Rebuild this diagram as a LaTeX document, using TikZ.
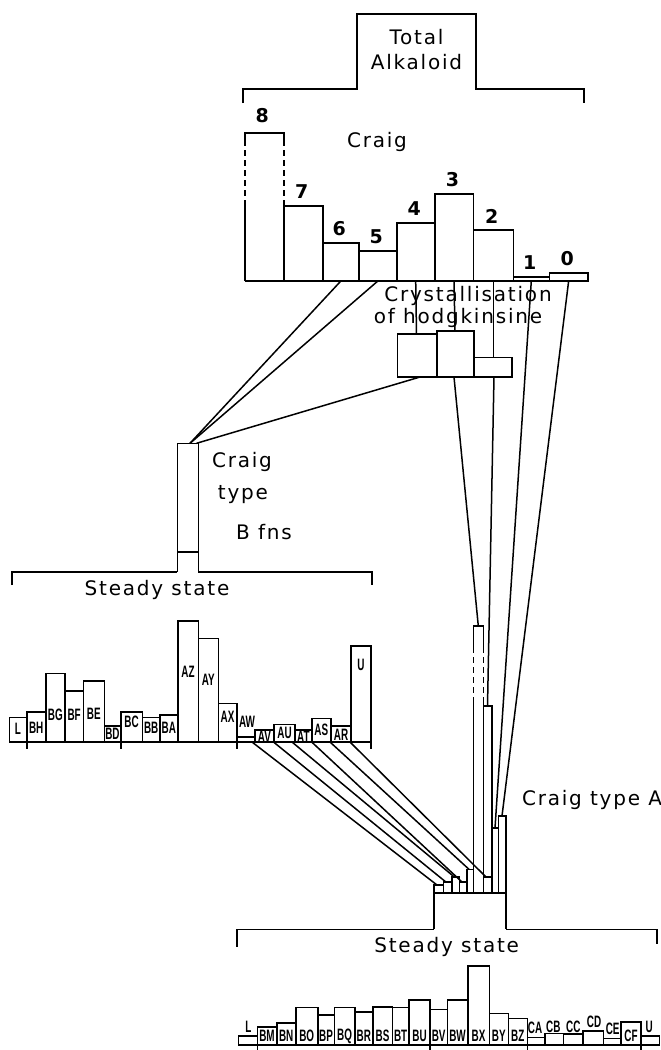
\documentclass[tikz,border=0pt]{standalone}
\usepackage{fontspec}
\usetikzlibrary{positioning}
\newfontfamily\lblfont[LetterSpace=9]{DejaVu Sans}
\newfontfamily\barfont[FakeStretch=0.6]{Liberation Sans}

\begin{document}
\begin{tikzpicture}[x=1pt,y=-1pt,line width=1.6pt,line join=miter]

%% ── helpers ───────────────────────────────────────────────
\tikzset{
  dsh/.style={dash pattern=on 6pt off 4pt},
  txt/.style={font=\fontsize{20}{25}\lblfont,inner sep=0pt,align=center},
  num/.style={font=\fontsize{19}{19}\lblfont\bfseries,inner sep=0pt},
  tag/.style={font=\fontsize{16.5}{16.5}\barfont\bfseries,inner sep=0pt},
  lnk/.style={line width=1.5pt},
}
\useasboundingbox (0,0) rectangle (661,1050);

%% ── TOTAL ALKALOID ───────────────────────────────────────
\node[txt] (total) at (416.5,50) {Total\\Alkaloid};
\draw (243,103) |- (357,89) |- (476,14) |- (584,89) -- (584,103);

%% ── CRAIG (fractions 8 ... 0) ────────────────────────────
\node[txt] (craig) at (377,142) {Craig};
\draw (244.7,281) -- (244.7,200) (244.7,140) -- (244.7,132.7) -- (284,132.7) -- (284,140);
\draw[dsh] (244.7,140) -- (244.7,200) (284,140) -- (284,206);
\node[num] (n8) at (262.3,116) {8};
\coordinate (c8) at (264.3,281);
\foreach \xa/\xb/\yt/\nm in {284/322.7/206/7, 322.7/359/242.7/6, 359/396.7/250.7/5,
                             396.7/434.7/222.7/4, 434.7/473.3/194/3, 473.3/513.3/230/2,
                             513.3/549.3/276.7/1, 549.3/588/272.7/0}{
  \draw (\xa,\yt) rectangle (\xb,281);
  \node[num] (n\nm) at ({(\xa+\xb)/2-1.5},{\yt-14}) {\nm};
  \coordinate (c\nm) at ({(\xa+\xb)/2},281);
}
\draw (244.7,281) -- (588,281);

%% ── CRYSTALLISATION OF HODGKINSINE ───────────────────────
\coordinate (x1t) at (416.5,334);
\coordinate (x2t) at (455,331);
\coordinate (x3t) at (493.3,357.3);
\draw[lnk] (c4) -- (x1t);
\draw[lnk] (c3) -- (x2t);
\draw[lnk] (c2) -- (x3t);
\node[txt] (cry1) at (468,296) {Crystallisation};
\node[txt] (cry2) at (458,318) {of hodgkinsine};
\draw (397.5,334) rectangle (436.7,377);
\draw (436.7,331) rectangle (474,377);
\draw (474,357.3) rectangle (512,377);
\coordinate (x1b) at (420,377);
\coordinate (x2b) at (454,377);
\coordinate (x3b) at (494,377);

%% ── CRAIG TYPE B ─────────────────────────────────────────
\draw (177.3,571.7) -- (177.3,443.3) -- (198.3,443.3) -- (198.3,571.7);
\draw (177.3,551.7) -- (198.3,551.7);
\coordinate (bt1) at (190,443.3);
\coordinate (bt2) at (196.5,443.3);
\draw[lnk] (c6) -- (bt1);
\draw[lnk] (c5) -- (bt1);
\draw[lnk] (x1b) -- (bt2);
\node[txt] (cb1) at (242,462) {Craig};
\node[txt] (cb2) at (243,495) {type};
\node[txt] (cb3) at (264,532) {B fns};

%% ── STEADY STATE (left) ──────────────────────────────────
\draw (11.7,585) |- (177.3,571.7);
\draw (198.3,571.7) -| (372,585);
\node[txt] (ss1) at (157,590) {Steady state};

\foreach \xa/\xb/\yt/\nm/\ly in {9.3/26.7/717.3/L/729, 26.7/45.7/711.7/BH/728, 45.7/65/673.3/BG/715,
    65/83.3/690.7/BF/715, 83.3/104.3/681/BE/714, 104.3/120.7/726/BD/734, 120.7/142.3/711.7/BC/722,
    142.3/160/717.3/BB/728, 160/177.7/715/BA/728, 177.7/198.3/620.7/AZ/672, 198.3/218.3/638.3/AY/680,
    218.3/236.7/703.3/AX/717, 255/274/730/AV/736.5, 274/295/724.3/AU/733, 295/311.7/730/AT/736.5,
    311.7/331/718.3/AS/730, 331/351/726/AR/735, 351/370.7/646/U/665}{
  \draw (\xa,\yt) rectangle (\xb,742);
  \node[tag] (l\nm) at ({(\xa+\xb)/2},\ly) {\nm};
}
\draw (236.7,742) -- (236.7,737) -- (255,737);
\node[tag] (lAW) at (247,722) {AW};
\draw (9.3,742) -- (370.7,742);
\foreach \xt in {26.7,120.7,236.7,370.7}
  \draw (\xt,742) -- (\xt,749);

%% ── CRAIG TYPE A column ──────────────────────────────────
\draw (473.3,893) -- (473.3,700) (473.3,647) -- (473.3,626) -- (483.3,626) -- (483.3,647) (483.3,700) -- (483.3,893);
\draw[dsh] (473.3,647) -- (473.3,700) (483.3,647) -- (483.3,700);
\foreach \xa/\xb/\yt in {483.3/491.7/706, 491.7/498.3/828, 498.3/506/816,
                         434/443.3/885, 443.3/451.7/881.7, 451.7/459.3/876.7,
                         459.3/466.7/882, 466.7/473.3/869.3}
  \draw (\xa,\yt) rectangle (\xb,893);
\draw (483.3,877) -- (491.7,877);
\draw (434,929.3) -- (434,893) -- (506,893) -- (506,929.3);
\node[txt] (typeA) at (592,800) {Craig type A};

\coordinate (a1) at (478.3,626);
\coordinate (a2) at (487.5,706);
\coordinate (a3) at (495,828);
\coordinate (a4) at (502,816);
\draw[lnk] (x2b) -- (a1);
\draw[lnk] (x3b) -- (a2);
\draw[lnk] (c1) -- (a3);
\draw[lnk] (c0) -- (a4);

%% ── AV ... AR into the column ────────────────────────────
\foreach \i/\sx/\ex/\ey in {1/252/437/885, 2/273.5/445.5/881.7, 3/292/454/876.7,
                            4/311.7/462/882, 5/330/469/869.3, 6/350/486/877}{
  \coordinate (s\i) at (\sx,742);
  \coordinate (k\i) at (\ex,\ey);
  \draw[lnk] (s\i) -- (k\i);
}

%% ── STEADY STATE (bottom) ────────────────────────────────
\draw (236.7,946.7) |- (434,929.3);
\draw (506,929.3) -| (656.7,944);
\node[txt] (ss2) at (446.7,946.7) {Steady state};

\foreach \xa/\xb/\yt/\nm in {257.3/276.7/1026.7/BM, 276.7/295.7/1022.7/BN, 295.7/317.7/1007.3/BO,
    317.7/334.3/1015/BP, 334.3/355/1007.3/BQ, 355/372.7/1011.7/BR, 372.7/392.3/1006.7/BS,
    392.3/409/1007.3/BT, 409/430/1000/BU, 430/447.3/1009.3/BV, 447.3/467.7/1000/BW,
    467.7/489.3/965.7/BX, 489.3/508.3/1013.3/BY, 508.3/527.3/1018.3/BZ, 621/641/1021.7/CF}{
  \draw (\xa,\yt) rectangle (\xb,1045);
  \node[tag] (b\nm) at ({(\xa+\xb)/2},1036) {\nm};
}
\foreach \xa/\xb/\yt/\nm/\lx/\ly in {238.3/257.3/1036/L/248.3/1027, 527.3/545/1037.3/CA/535/1027.5,
    545/563.3/1033.3/CB/553.3/1027, 563.3/582.7/1034/CC/573.3/1026.7, 582.7/603.3/1030.7/CD/594/1021.7,
    603.3/621/1038.3/CE/612.7/1029.3, 641/659.3/1036/U/649.3/1026.7}{
  \draw (\xa,\yt) rectangle (\xb,1045);
  \node[tag] (b\nm) at (\lx,\ly) {\nm};
}
\draw (238.3,1045) -- (659.3,1045);
\foreach \xt in {257.3,430,527.3,641}
  \draw (\xt,1045) -- (\xt,1050);

\end{tikzpicture}
\end{document}
